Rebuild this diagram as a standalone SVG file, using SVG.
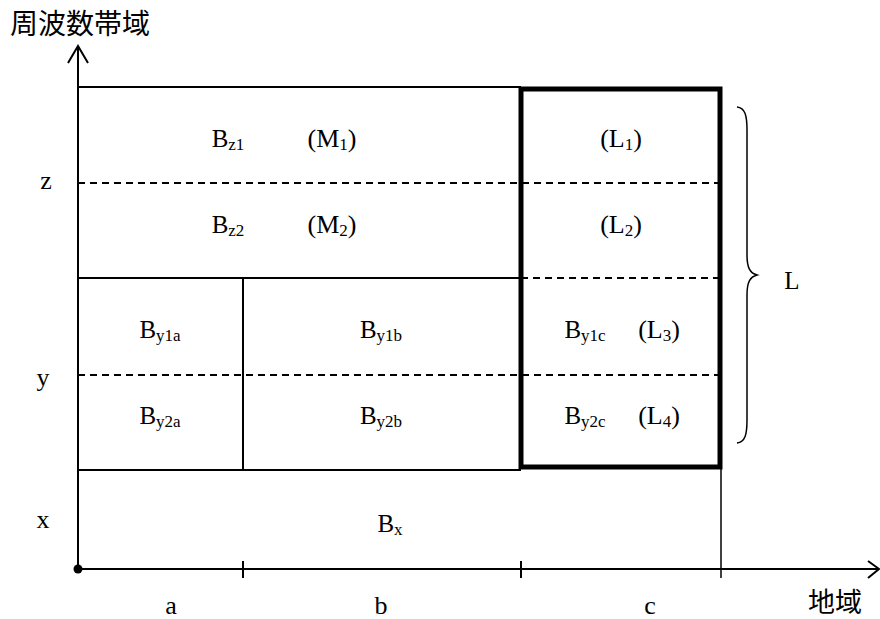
<svg xmlns="http://www.w3.org/2000/svg" width="880" height="619" viewBox="0 0 880 619">
<style>
.ln{stroke:#000;stroke-width:2;fill:none}
.thin{stroke:#000;stroke-width:1.5;fill:none}
.dash{stroke:#000;stroke-width:2;stroke-dasharray:7 5;fill:none}
.thick{stroke:#000;stroke-width:5;fill:none}
.t{font-family:"Liberation Serif","DejaVu Serif",serif;font-size:25px;fill:#000;text-anchor:middle}
.p{font-size:26px}
.s{font-size:17px}
.ax{font-family:"Liberation Serif","DejaVu Serif",serif;font-size:26px;fill:#000;text-anchor:middle}
.jp{font-family:"Noto Sans CJK JP","Noto Sans CJK SC",sans-serif;font-size:28px;fill:#000}
</style>
<rect width="880" height="619" fill="#fff"/>
<g id="connectors">
<line class="ln" x1="78" y1="569" x2="78" y2="46"/>
<polyline class="ln" points="68,63 78,46 88,63"/>
<line class="ln" x1="78" y1="569" x2="879" y2="569"/>
<polyline class="ln" points="868,561 879,569 868,578"/>
<circle cx="78" cy="569" r="4.5" fill="#000"/>
<line class="ln" x1="243" y1="561" x2="243" y2="578"/>
<line class="ln" x1="521" y1="561" x2="521" y2="578"/>
<line class="thin" x1="721" y1="467" x2="721" y2="578"/>
</g>
<g id="grid">
<line class="ln" x1="78" y1="87" x2="521" y2="87"/>
<line class="dash" x1="78" y1="183" x2="720" y2="183"/>
<line class="ln" x1="78" y1="278" x2="521" y2="278"/>
<line class="dash" x1="521" y1="278" x2="720" y2="278"/>
<line class="dash" x1="78" y1="375" x2="720" y2="375"/>
<line class="ln" x1="78" y1="470" x2="521" y2="470"/>
<line class="ln" x1="243" y1="278" x2="243" y2="470"/>
</g>
<g id="box-L">
<rect class="thick" x="521" y="89" width="199" height="378"/>
</g>
<g id="brace">
<path class="thin" d="M737,107 C745,108 747,115 747,130 L747,255 C747,268 750,273 757,275 C750,277 747,282 747,295 L747,420 C747,435 745,442 737,443"/>
<text class="t" x="792" y="289">L</text>
</g>
<g id="labels">
<text class="jp" x="10" y="34">周波数帯域</text>
<text class="jp" x="808" y="612" style="font-size:27px">地域</text>
<text class="ax" x="46" y="189">z</text>
<text class="ax" x="43" y="386">y</text>
<text class="ax" x="43" y="528">x</text>
<text class="ax" x="171" y="614">a</text>
<text class="ax" x="381" y="614">b</text>
<text class="ax" x="650" y="614">c</text>
</g>
<g id="Bz1"><text class="t" x="228" y="147">B<tspan class="s" dy="3">z1</tspan></text></g>
<g id="M1"><text class="t p" x="332" y="147">(M<tspan class="s" dy="3">1</tspan><tspan dy="-3">)</tspan></text></g>
<g id="L1"><text class="t p" x="621" y="147">(L<tspan class="s" dy="3">1</tspan><tspan dy="-3">)</tspan></text></g>
<g id="Bz2"><text class="t" x="228" y="233">B<tspan class="s" dy="3">z2</tspan></text></g>
<g id="M2"><text class="t p" x="332" y="233">(M<tspan class="s" dy="3">2</tspan><tspan dy="-3">)</tspan></text></g>
<g id="L2"><text class="t p" x="621" y="233">(L<tspan class="s" dy="3">2</tspan><tspan dy="-3">)</tspan></text></g>
<g id="By1a"><text class="t" x="160" y="338">B<tspan class="s" dy="3">y1a</tspan></text></g>
<g id="By1b"><text class="t" x="381" y="338">B<tspan class="s" dy="3">y1b</tspan></text></g>
<g id="By1c"><text class="t" x="585" y="338">B<tspan class="s" dy="3">y1c</tspan></text><text class="t p" x="659" y="338">(L<tspan class="s" dy="3">3</tspan><tspan dy="-3">)</tspan></text></g>
<g id="By2a"><text class="t" x="160" y="424">B<tspan class="s" dy="3">y2a</tspan></text></g>
<g id="By2b"><text class="t" x="381" y="424">B<tspan class="s" dy="3">y2b</tspan></text></g>
<g id="By2c"><text class="t" x="585" y="424">B<tspan class="s" dy="3">y2c</tspan></text><text class="t p" x="659" y="424">(L<tspan class="s" dy="3">4</tspan><tspan dy="-3">)</tspan></text></g>
<g id="Bx"><text class="t" x="390" y="532">B<tspan class="s" dy="3">x</tspan></text></g>
</svg>
